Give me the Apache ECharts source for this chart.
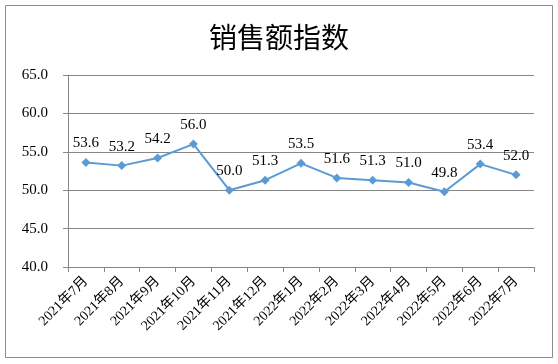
<!DOCTYPE html>
<html><head><meta charset="utf-8">
<script src="https://cdn.jsdelivr.net/npm/echarts@6/dist/echarts.min.js"></script>
<style>html,body{margin:0;padding:0;background:#fff}#c{width:558px;height:364px}</style>
</head><body><div id="c"></div>
<script>
const titleText = '销售额指数';
const categories = ['2021年7月','2021年8月','2021年9月','2021年10月','2021年11月','2021年12月','2022年1月','2022年2月','2022年3月','2022年4月','2022年5月','2022年6月','2022年7月'];
const values = [53.6, 53.2, 54.2, 56.0, 50.0, 51.3, 53.5, 51.6, 51.3, 51.0, 49.8, 53.4, 52.0];
const yMin = 40, yMax = 65, yStep = 5;

const font = "'Liberation Serif','Noto Sans CJK SC',serif";
const chart = echarts.init(document.getElementById('c'), null, {renderer:'canvas'});
chart.setOption({
  animation: false,
  backgroundColor: '#fff',
  title: {
    text: titleText, left: 'center', top: 18,
    textStyle: {fontFamily: "'Noto Sans CJK SC',sans-serif", fontSize: 28, fontWeight: 'normal', color: '#000'}
  },
  graphic: [{type:'rect', shape:{x:5.5,y:5.5,width:547,height:352}, style:{fill:'none', stroke:'#8c8c8c', lineWidth:1}, silent:true}],
  grid: {left: 68, right: 24, top: 75, bottom: 97},
  xAxis: {
    type: 'category', data: categories, boundaryGap: true,
    axisLine: {lineStyle: {color: '#868686'}},
    axisTick: {show: true, length: 5, lineStyle: {color: '#868686'}},
    axisLabel: {rotate: 45, fontFamily: font, fontSize: 14, color: '#000', margin: 12, interval: 0}
  },
  yAxis: {
    type: 'value', min: yMin, max: yMax, interval: yStep,
    axisLine: {show: true, lineStyle: {color: '#868686'}},
    axisTick: {show: true, length: 5, lineStyle: {color: '#868686'}},
    splitLine: {lineStyle: {color: '#868686'}},
    axisLabel: {formatter: v => v.toFixed(1), fontFamily: font, fontSize: 15, color: '#000', margin: 20}
  },
  series: [{
    type: 'line', data: values,
    symbol: 'diamond', symbolSize: 9,
    lineStyle: {color: '#5B9BD5', width: 2},
    itemStyle: {color: '#5B9BD5'},
    label: {show: true, position: 'top', distance: 7, formatter: p => p.value.toFixed(1),
      fontFamily: font, fontSize: 15, color: '#000'}
  }]
});
</script></body></html>
